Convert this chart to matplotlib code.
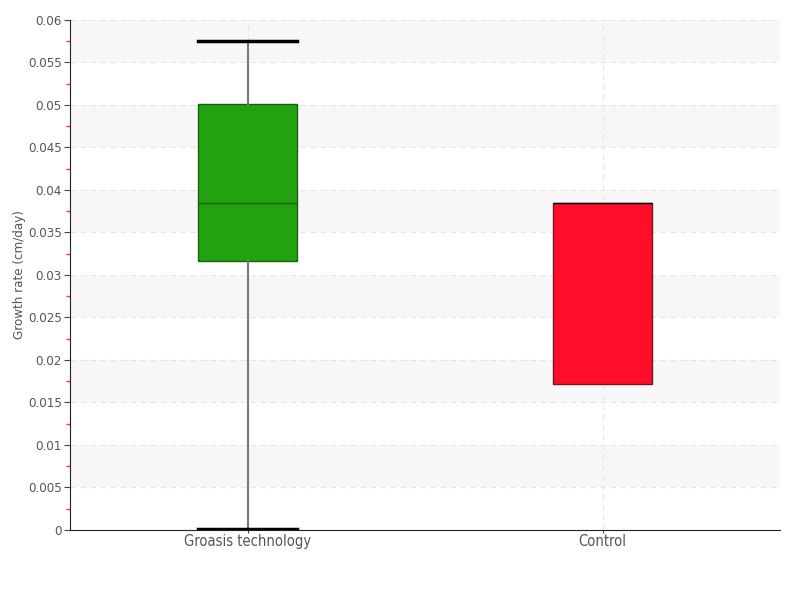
import matplotlib
matplotlib.use("Agg")
import matplotlib.pyplot as plt
import numpy as np

plt.rcParams['font.family'] = ['DejaVu Sans']
plt.rcParams['font.stretch'] = 'condensed'

groups = ['Groasis technology', 'Control']
q1 = [0.0317, 0.0172]
med = [0.0385, 0.0385]
q3 = [0.0501, 0.0385]
wlo = [0.0001, 0.0172]
whi = [0.0575, 0.0385]
face = ['#21a30f', '#ff0d29']
edge = ['#1f5c17', '#6b1a22']

fig = plt.figure(figsize=(8, 6), dpi=100)
ax = fig.add_axes([0.0875, 0.1167, 0.8875, 0.85])

# alternating bands
for lo in np.arange(0.005, 0.06, 0.01):
    ax.axhspan(lo, lo + 0.005, color='#f7f7f7', zorder=0, lw=0)
for yv in np.arange(0.005, 0.0601, 0.005):
    ax.axhline(yv, color='#e6e6e6', lw=0.8, ls=(0, (5, 4)), zorder=0.5)
for i in range(len(groups)):
    ax.axvline(i, color='#e6e6e6', lw=0.8, ls=(0, (5, 4)), zorder=0.5)

for i in range(len(groups)):
    st = dict(q1=q1[i], med=med[i], q3=q3[i], whislo=wlo[i], whishi=whi[i], fliers=[])
    has_whisk = whi[i] > q3[i]
    ax.bxp([st], positions=[i], widths=0.28, patch_artist=True,
           showcaps=has_whisk, showfliers=False,
           boxprops=dict(facecolor=face[i], edgecolor=edge[i], lw=1),
           medianprops=dict(color=edge[i] if has_whisk else '#000000', lw=1),
           whiskerprops=dict(color='#777777', lw=1.5, visible=has_whisk),
           capprops=dict(color='#000000', lw=2.5), capwidths=0.28)

ax.set_xlim(-0.5, 1.5)
ax.set_ylim(0, 0.06)
ax.set_xticks(range(len(groups)))
ax.set_xticklabels(groups)
yt = np.round(np.arange(0, 0.0601, 0.005), 3)
ax.set_yticks(yt)
ax.set_yticklabels(['0' if v == 0 else ('%g' % v) for v in yt])
ax.set_yticks(np.arange(0.0025, 0.06, 0.005), minor=True)
ax.tick_params(axis='y', which='minor', length=3, color='#ff3333', width=1)
ax.tick_params(axis='y', which='major', length=4, color='#444444',
               labelsize=9.5, labelcolor='#555555', pad=2)
ax.tick_params(axis='x', which='major', length=2, color='#444444',
               labelsize=10.5, labelcolor='#555555', pad=1)
ax.set_ylabel('Growth rate (cm/day)', fontsize=9.5, color='#555555')
ax.yaxis.set_label_coords(-0.062, 0.5)

for s in ['top', 'right']:
    ax.spines[s].set_visible(False)
ax.spines['left'].set_color('#222222')
ax.spines['bottom'].set_color('#222222')

fig.savefig('out.png', dpi=100)
